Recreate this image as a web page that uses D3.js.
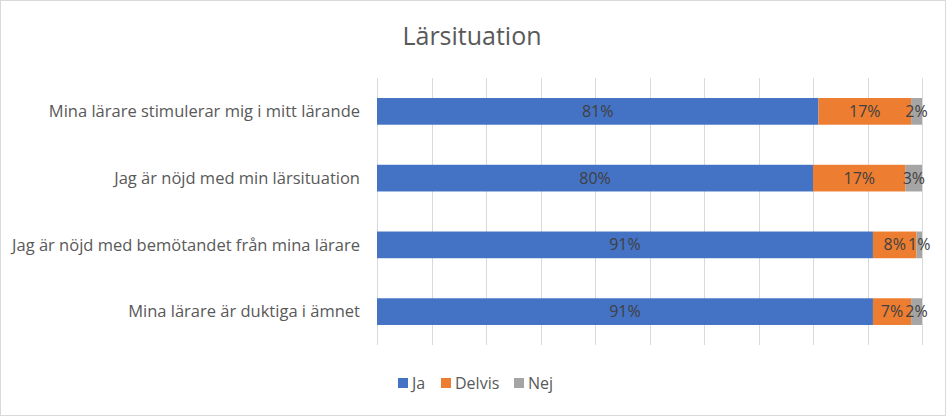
<!DOCTYPE html>
<html lang="sv">
<head>
<meta charset="utf-8" />
<style>
    body { margin: 0; background: #fff; }
    svg text { font-family: "Open Sans", "Noto Sans", sans-serif; }
    .grid line { stroke: #d9d9d9; stroke-width: 1px; }
    .cat { fill: #595959; font-size: 16.5px; }
    .val { fill: #404040; font-size: 16px; }
</style>
</head>
<body>
<svg width="946" height="416"></svg>
<script src="https://cdn.jsdelivr.net/npm/d3@7"></script>
<script>

    var categories = [
        "Mina lärare stimulerar mig i mitt lärande",
        "Jag är nöjd med min lärsituation",
        "Jag är nöjd med bemötandet från mina lärare",
        "Mina lärare är duktiga i ämnet"
    ];
    var seriesNames = ["Ja", "Delvis", "Nej"];
    var ja = [81, 80, 91, 91];
    var delvis = [17, 17, 8, 7];
    var nej = [2, 3, 1, 2];
    var colors = ["#4472c4", "#ed7d31", "#a5a5a5"];
    var ticks = [0, 10, 20, 30, 40, 50, 60, 70, 80, 90, 100];

    var svg = d3.select("svg");

    // chart border
    svg.append("rect")
        .attr("x", 0.5).attr("y", 0.5)
        .attr("width", 945).attr("height", 415)
        .attr("fill", "#fff")
        .attr("stroke", "#d9d9d9");

    svg.append("text")
        .attr("x", 472).attr("y", 45)
        .attr("text-anchor", "middle")
        .attr("fill", "#595959")
        .style("font-size", "25px")
        .text("Lärsituation");

    var x = d3.scaleLinear().domain([0, 100]).range([377, 922]),
        y = d3.scaleBand().domain(categories).range([78, 345]).paddingInner(0.6).paddingOuter(0.3);

    svg.append("g").attr("class", "grid")
        .selectAll("line")
        .data(ticks)
        .enter().append("line")
        .attr("x1", function(d){ return Math.round(x(d)) + 0.5; })
        .attr("x2", function(d){ return Math.round(x(d)) + 0.5; })
        .attr("y1", 78).attr("y2", 345);

    var rows = categories.map(function(c, i){
        return { cat: c, Ja: ja[i], Delvis: delvis[i], Nej: nej[i] };
    });
    var stacked = d3.stack().keys(seriesNames)(rows);

    var layer = svg.selectAll(".layer")
        .data(stacked)
        .enter().append("g")
        .attr("class", "layer")
        .attr("fill", function(d, i){ return colors[i]; });

    layer.selectAll("rect")
        .data(function(d){ return d; })
        .enter().append("rect")
        .attr("x", function(d){ return x(d[0]); })
        .attr("width", function(d){ return x(d[1]) - x(d[0]); })
        .attr("y", function(d){ return y(d.data.cat); })
        .attr("height", y.bandwidth());

    layer.selectAll("text")
        .data(function(d){ return d; })
        .enter().append("text")
        .attr("class", "val")
        .attr("x", function(d){ return (x(d[0]) + x(d[1])) / 2; })
        .attr("y", function(d){ return y(d.data.cat) + y.bandwidth() / 2; })
        .attr("dy", "0.35em")
        .attr("text-anchor", "middle")
        .text(function(d){ return (d[1] - d[0]) + "%"; });

    svg.selectAll(".cat")
        .data(categories)
        .enter().append("text")
        .attr("class", "cat")
        .attr("x", 360)
        .attr("y", function(d){ return y(d) + y.bandwidth() / 2; })
        .attr("dy", "0.35em")
        .attr("text-anchor", "end")
        .text(function(d){ return d; });

    // legend
    var legendX = [398, 441, 514];
    var legend = svg.selectAll(".legend")
        .data(seriesNames)
        .enter().append("g")
        .attr("class", "legend")
        .attr("transform", function(d, i){ return "translate(" + legendX[i] + ",383)"; });

    legend.append("rect")
        .attr("x", 0).attr("y", -5)
        .attr("width", 10).attr("height", 10)
        .attr("fill", function(d, i){ return colors[i]; });

    legend.append("text")
        .attr("x", 14).attr("dy", "0.35em")
        .attr("fill", "#595959")
        .style("font-size", "16px")
        .text(function(d){ return d; });

</script>
</body>
</html>
